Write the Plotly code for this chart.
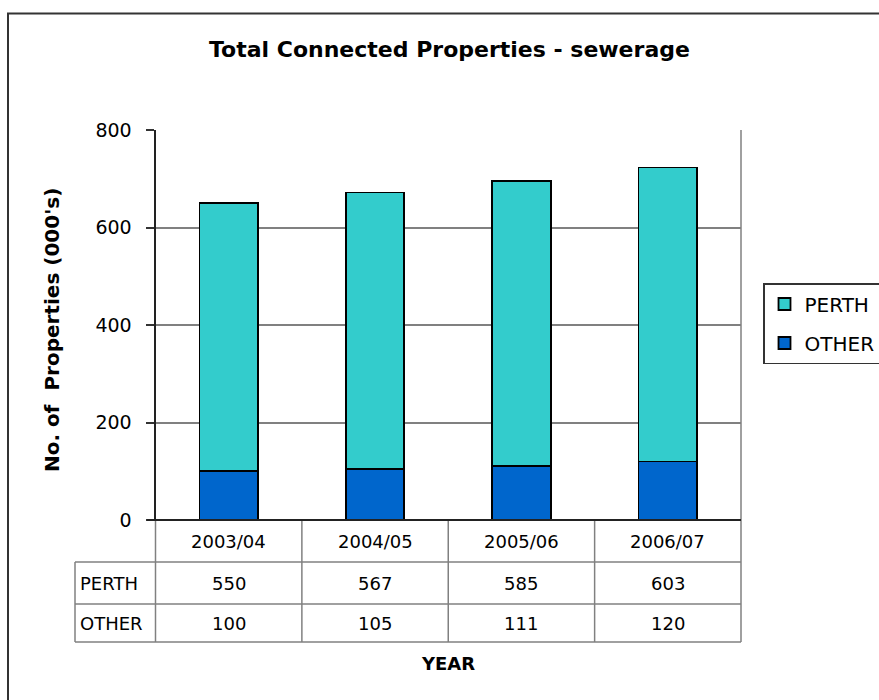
import plotly.graph_objects as go

categories = ["2003/04", "2004/05", "2005/06", "2006/07"]
perth = [550, 567, 585, 603]
other = [100, 105, 111, 120]
series_names = ["PERTH", "OTHER"]
y_ticks = [0, 200, 400, 600, 800]

W, H = 879, 700
FONT = "DejaVu Sans, Liberation Sans, Arial, sans-serif"

def px(x):
    return x / W

def py(y):
    return (H - y) / H

fig = go.Figure()
fig.add_trace(go.Bar(
    x=categories, y=other, name="OTHER", legendgroup="o", legendrank=2,
    marker=dict(color="#0066CC", line=dict(color="black", width=1.8)),
    width=0.4,
))
fig.add_trace(go.Bar(
    x=categories, y=perth, name="PERTH", legendgroup="p", legendrank=1,
    marker=dict(color="#33CCCC", line=dict(color="black", width=1.8)),
    width=0.4,
))

plot_l, plot_r, plot_t, plot_b = 155.5, 741, 130, 520
row1_b, row2_b, row3_b = 562, 604, 642
tbl_l = 75

shapes = []
shapes.append(dict(type="rect", xref="paper", yref="paper",
                   x0=px(8), x1=px(W + 20), y0=py(H + 20), y1=py(13.5),
                   line=dict(color="#333333", width=2), layer="below"))
shapes.append(dict(type="line", xref="paper", yref="paper",
                   x0=px(plot_r), x1=px(plot_r), y0=py(plot_t), y1=py(plot_b),
                   line=dict(color="#808080", width=1.5)))
n = len(categories)
for i in range(n + 1):
    xp = plot_l + (plot_r - plot_l) * i / n
    shapes.append(dict(type="line", xref="paper", yref="paper",
                       x0=px(xp), x1=px(xp), y0=py(plot_b), y1=py(row3_b),
                       line=dict(color="#808080", width=1.5)))
shapes.append(dict(type="line", xref="paper", yref="paper",
                   x0=px(tbl_l), x1=px(tbl_l), y0=py(row1_b), y1=py(row3_b),
                   line=dict(color="#808080", width=1.5)))
for yy in (row1_b, row2_b, row3_b):
    shapes.append(dict(type="line", xref="paper", yref="paper",
                       x0=px(tbl_l), x1=px(plot_r), y0=py(yy), y1=py(yy),
                       line=dict(color="#808080", width=1.5)))
shapes.append(dict(type="line", xref="paper", yref="paper",
                   x0=px(147), x1=px(plot_r), y0=py(plot_b), y1=py(plot_b),
                   line=dict(color="#222222", width=2)))

annotations = []
annotations.append(dict(text="<b>Total Connected Properties - sewerage</b>",
                        xref="paper", yref="paper", x=px(449), y=py(50),
                        showarrow=False, font=dict(size=22, family=FONT, color="black"),
                        xanchor="center", yanchor="middle"))
annotations.append(dict(text="<b>No. of  Properties (000's)</b>", textangle=-90,
                        xref="paper", yref="paper", x=px(52), y=py(330),
                        showarrow=False, font=dict(size=20, family=FONT, color="black"),
                        xanchor="center", yanchor="middle"))
annotations.append(dict(text="<b>YEAR</b>", xref="paper", yref="paper",
                        x=px(448), y=py(663), showarrow=False,
                        font=dict(size=18, family=FONT, color="black"),
                        xanchor="center", yanchor="middle"))
for i, c in enumerate(categories):
    annotations.append(dict(text=c, xref="x", yref="paper", x=c, y=py((plot_b + row1_b) / 2),
                            showarrow=False, font=dict(size=18, family=FONT, color="black"),
                            xanchor="center", yanchor="middle"))
    annotations.append(dict(text=str(perth[i]), xref="x", yref="paper", x=c,
                            y=py((row1_b + row2_b) / 2), showarrow=False,
                            font=dict(size=18, family=FONT, color="black"),
                            xanchor="center", yanchor="middle"))
    annotations.append(dict(text=str(other[i]), xref="x", yref="paper", x=c,
                            y=py((row2_b + row3_b) / 2), showarrow=False,
                            font=dict(size=18, family=FONT, color="black"),
                            xanchor="center", yanchor="middle"))
for name, yy in zip(series_names, [(row1_b + row2_b) / 2, (row2_b + row3_b) / 2]):
    annotations.append(dict(text=name, xref="paper", yref="paper", x=px(78), y=py(yy),
                            showarrow=False, font=dict(size=18, family=FONT, color="black"),
                            xanchor="left", yanchor="middle"))

fig.update_layout(
    width=W, height=H,
    margin=dict(l=0, r=0, t=0, b=0, pad=0, autoexpand=False),
    paper_bgcolor="white", plot_bgcolor="white",
    barmode="stack",
    showlegend=True,
    legend=dict(x=px(763), y=py(283), xanchor="left", yanchor="top",
                traceorder="grouped", tracegroupgap=10,
                bordercolor="#333333", borderwidth=1.5, bgcolor="white",
                font=dict(size=20, family=FONT, color="black")),
    xaxis=dict(domain=[px(plot_l), px(plot_r)], range=[-0.5, n - 0.5],
               showticklabels=False, showgrid=False, showline=False, ticks="",
               zeroline=False, fixedrange=True, automargin=False),
    yaxis=dict(domain=[py(plot_b), py(plot_t)], range=[0, 800], tickvals=y_ticks,
               showline=True, linecolor="#222222", linewidth=2,
               ticks="outside", ticklen=8, tickcolor="#333333", tickwidth=1.5,
               ticklabelstandoff=10, automargin=False,
               showgrid=True, gridcolor="#808080", gridwidth=1.5, zeroline=False,
               tickfont=dict(size=19, family=FONT, color="black"), fixedrange=True),
    shapes=shapes,
    annotations=annotations,
    font=dict(family=FONT),
)

fig.write_html("out.html")
